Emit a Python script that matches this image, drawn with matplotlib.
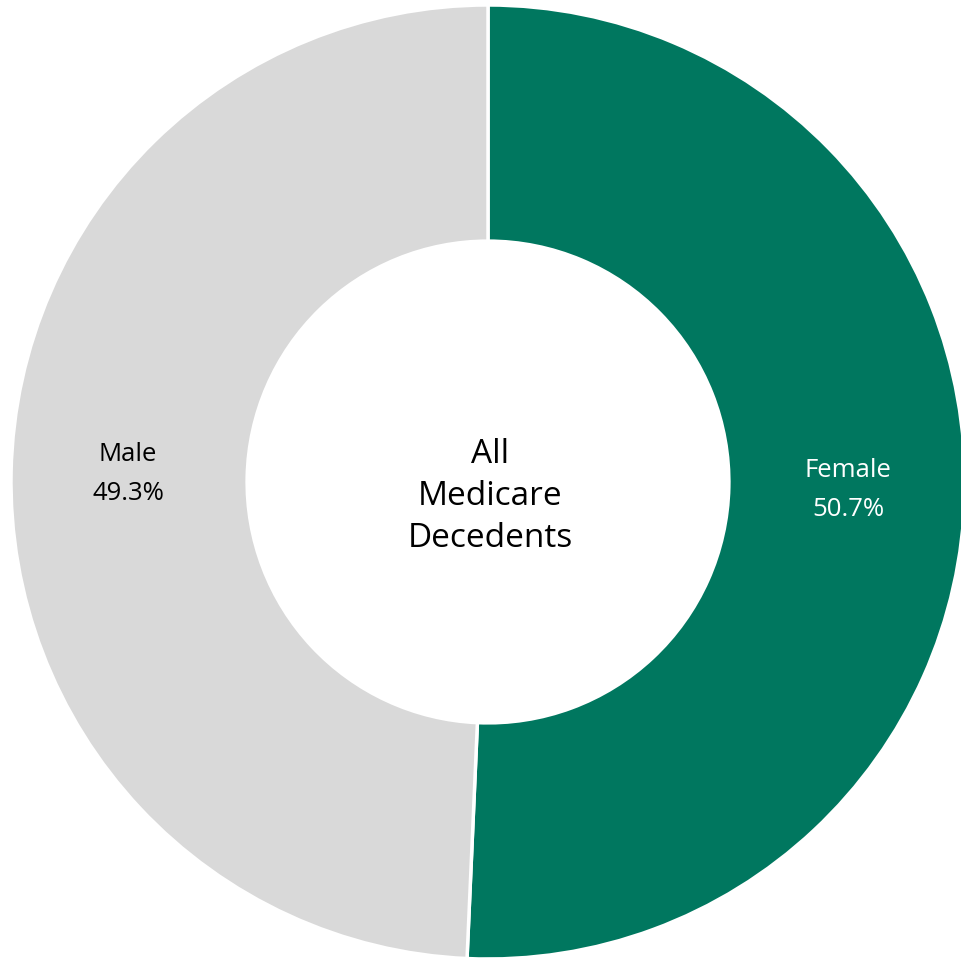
import matplotlib.pyplot as plt

######################################################################
# DATA

labels = ["Female", "Male"]
shares = [50.7, 49.3]
colors = ["#00775F", "#D9D9D9"]
label_colors = ["white", "black"]
center_text = "All\nMedicare\nDecedents"

######################################################################
# PLOT

plt.rcParams['font.family'] = ['Open Sans', 'DejaVu Sans']

fig = plt.figure(figsize=(9.61, 9.6), dpi=100)
ax = fig.add_axes([0, 0, 1, 1])

# center of donut at pixel (488, 482), outer radius 477 px
R = 477.0
label_iter = iter(labels)


def fmt(pct):
    return f"{next(label_iter)}\n{pct:.1f}%"


wedges, texts, autotexts = ax.pie(
    shares, colors=colors, startangle=90, counterclock=False,
    radius=1, autopct=fmt, pctdistance=0.755,
    wedgeprops=dict(width=0.495, edgecolor='white', linewidth=2.5),
    textprops=dict(fontsize=18.5, linespacing=1.75))
ax.set_xlim(-488 / R, (961 - 488) / R)
ax.set_ylim(-(960 - 482) / R, 482 / R)
ax.set_aspect('equal')
ax.axis('off')

for t, c in zip(autotexts, label_colors):
    t.set_color(c)

ax.text(0.005, -0.03, center_text, ha='center', va='center',
        fontsize=24, linespacing=1.35, color='black')

fig.savefig('out.png', dpi=100)
